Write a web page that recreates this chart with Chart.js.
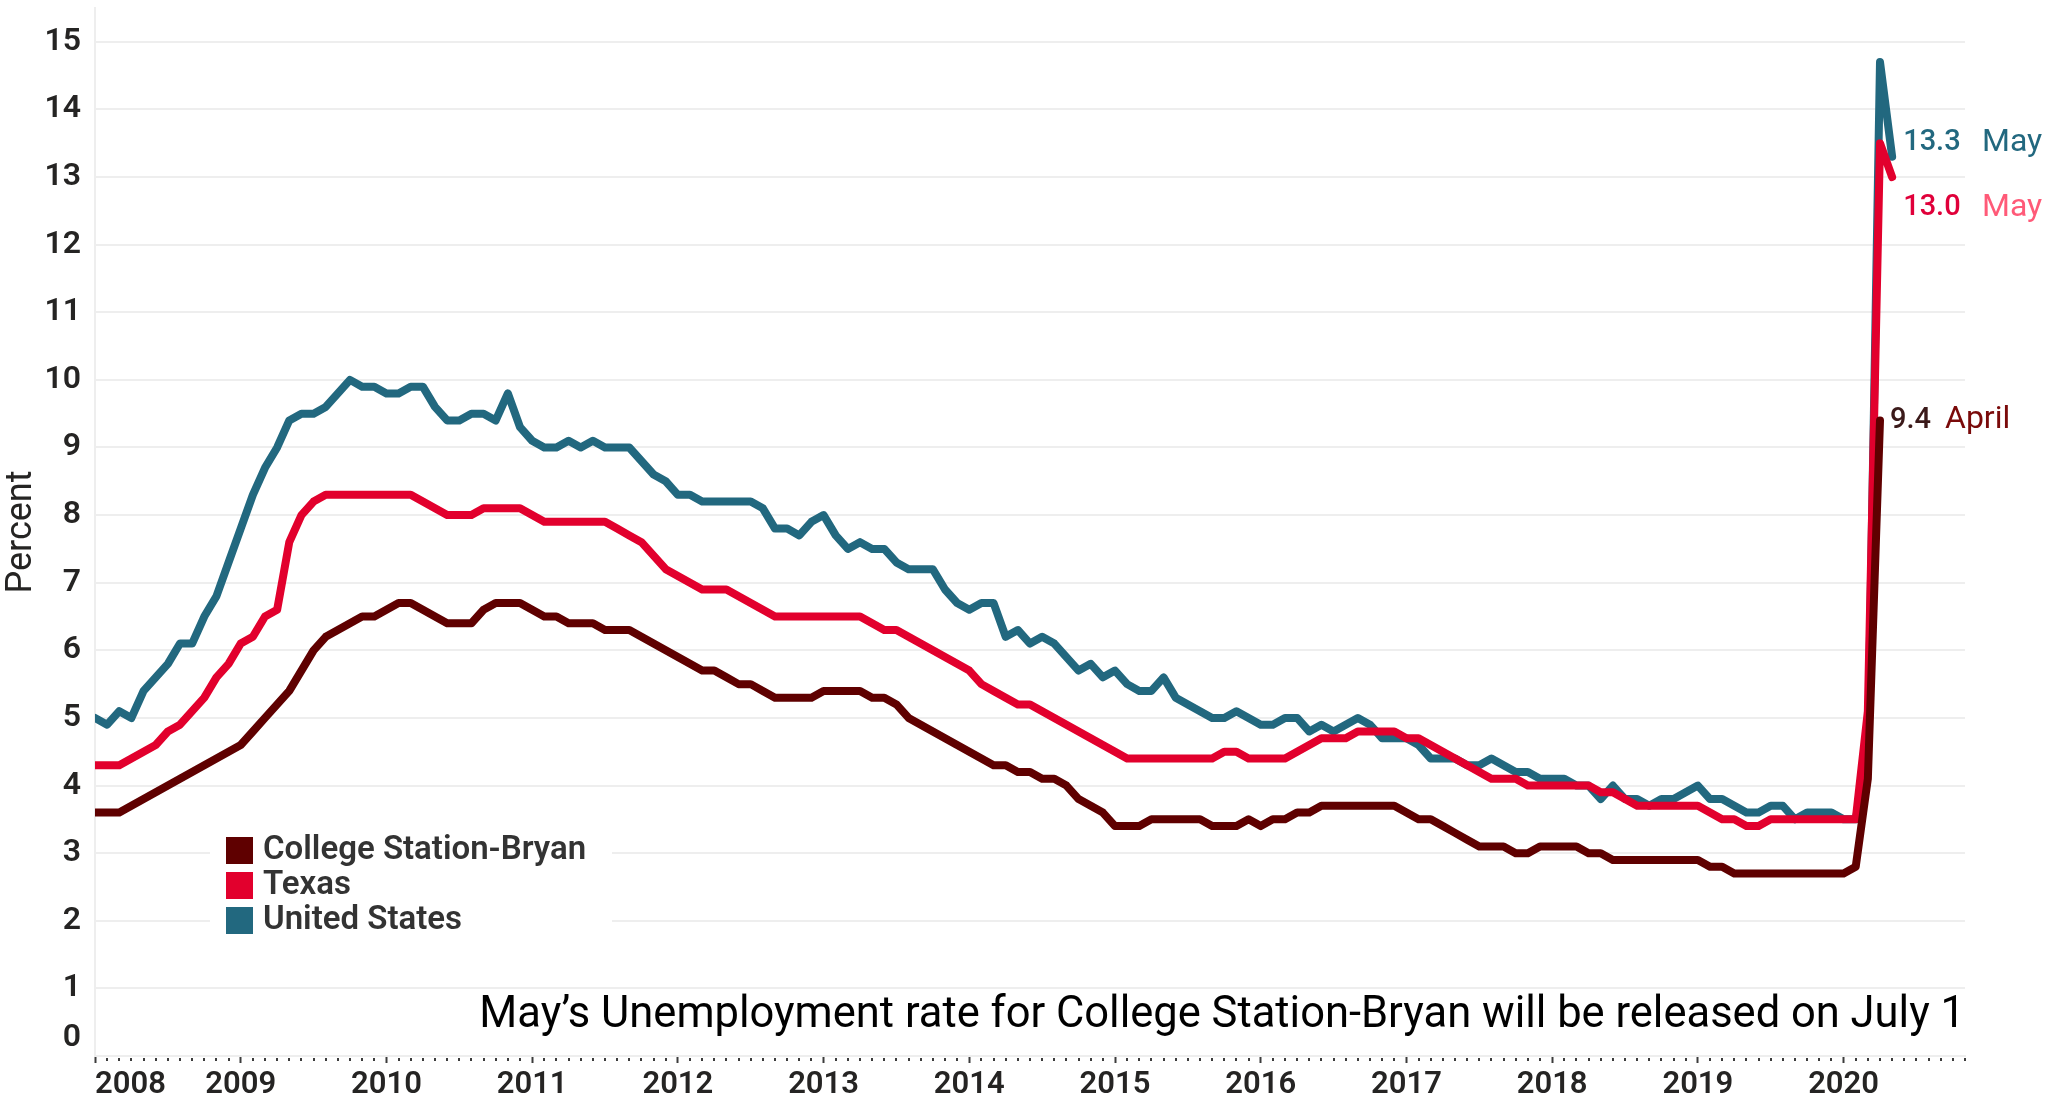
<!DOCTYPE html>
<html>
<head>
<meta charset="utf-8">
<title>Unemployment rate</title>
<script src="https://cdn.jsdelivr.net/npm/chart.js@4.4.0/dist/chart.umd.min.js"></script>
<style>
  html, body { margin: 0; padding: 0; background: #fff; }
  #wrap { width: 2050px; height: 1109px; }
</style>
</head>
<body>
<div id="wrap"><canvas id="chart" width="2050" height="1109"></canvas></div>
<script>
// Monthly unemployment rate, Jan 2008 onwards (percent)

const yearLabels = ['2008', '2009', '2010', '2011', '2012', '2013', '2014',
  '2015', '2016', '2017', '2018', '2019', '2020'];

const monthNames = ['January', 'February', 'March', 'April', 'May', 'June',
  'July', 'August', 'September', 'October', 'November', 'December'];

const yTickValues = [0, 1, 2, 3, 4, 5, 6, 7, 8, 9, 10, 11, 12, 13, 14, 15];

const seriesNames = ['College Station-Bryan', 'Texas', 'United States'];
const seriesColors = ['#5f0000', '#e2002d', '#22687f'];

// College Station-Bryan (ends April 2020)
const csbRate = [
  3.6, 3.6, 3.6, 3.7, 3.8, 3.9, 4.0, 4.1, 4.2, 4.3, 4.4, 4.5,
  4.6, 4.8, 5.0, 5.2, 5.4, 5.7, 6.0, 6.2, 6.3, 6.4, 6.5, 6.5,
  6.6, 6.7, 6.7, 6.6, 6.5, 6.4, 6.4, 6.4, 6.6, 6.7, 6.7, 6.7,
  6.6, 6.5, 6.5, 6.4, 6.4, 6.4, 6.3, 6.3, 6.3, 6.2, 6.1, 6.0,
  5.9, 5.8, 5.7, 5.7, 5.6, 5.5, 5.5, 5.4, 5.3, 5.3, 5.3, 5.3,
  5.4, 5.4, 5.4, 5.4, 5.3, 5.3, 5.2, 5.0, 4.9, 4.8, 4.7, 4.6,
  4.5, 4.4, 4.3, 4.3, 4.2, 4.2, 4.1, 4.1, 4.0, 3.8, 3.7, 3.6,
  3.4, 3.4, 3.4, 3.5, 3.5, 3.5, 3.5, 3.5, 3.4, 3.4, 3.4, 3.5,
  3.4, 3.5, 3.5, 3.6, 3.6, 3.7, 3.7, 3.7, 3.7, 3.7, 3.7, 3.7,
  3.6, 3.5, 3.5, 3.4, 3.3, 3.2, 3.1, 3.1, 3.1, 3.0, 3.0, 3.1,
  3.1, 3.1, 3.1, 3.0, 3.0, 2.9, 2.9, 2.9, 2.9, 2.9, 2.9, 2.9,
  2.9, 2.8, 2.8, 2.7, 2.7, 2.7, 2.7, 2.7, 2.7, 2.7, 2.7, 2.7,
  2.7, 2.8, 4.1, 9.4
];

// Texas (ends May 2020)
const texasRate = [
  4.3, 4.3, 4.3, 4.4, 4.5, 4.6, 4.8, 4.9, 5.1, 5.3, 5.6, 5.8,
  6.1, 6.2, 6.5, 6.6, 7.6, 8.0, 8.2, 8.3, 8.3, 8.3, 8.3, 8.3,
  8.3, 8.3, 8.3, 8.2, 8.1, 8.0, 8.0, 8.0, 8.1, 8.1, 8.1, 8.1,
  8.0, 7.9, 7.9, 7.9, 7.9, 7.9, 7.9, 7.8, 7.7, 7.6, 7.4, 7.2,
  7.1, 7.0, 6.9, 6.9, 6.9, 6.8, 6.7, 6.6, 6.5, 6.5, 6.5, 6.5,
  6.5, 6.5, 6.5, 6.5, 6.4, 6.3, 6.3, 6.2, 6.1, 6.0, 5.9, 5.8,
  5.7, 5.5, 5.4, 5.3, 5.2, 5.2, 5.1, 5.0, 4.9, 4.8, 4.7, 4.6,
  4.5, 4.4, 4.4, 4.4, 4.4, 4.4, 4.4, 4.4, 4.4, 4.5, 4.5, 4.4,
  4.4, 4.4, 4.4, 4.5, 4.6, 4.7, 4.7, 4.7, 4.8, 4.8, 4.8, 4.8,
  4.7, 4.7, 4.6, 4.5, 4.4, 4.3, 4.2, 4.1, 4.1, 4.1, 4.0, 4.0,
  4.0, 4.0, 4.0, 4.0, 3.9, 3.9, 3.8, 3.7, 3.7, 3.7, 3.7, 3.7,
  3.7, 3.6, 3.5, 3.5, 3.4, 3.4, 3.5, 3.5, 3.5, 3.5, 3.5, 3.5,
  3.5, 3.5, 5.1, 13.5, 13.0
];

// United States (ends May 2020)
const usRate = [
  5.0, 4.9, 5.1, 5.0, 5.4, 5.6, 5.8, 6.1, 6.1, 6.5, 6.8, 7.3,
  7.8, 8.3, 8.7, 9.0, 9.4, 9.5, 9.5, 9.6, 9.8, 10.0, 9.9, 9.9,
  9.8, 9.8, 9.9, 9.9, 9.6, 9.4, 9.4, 9.5, 9.5, 9.4, 9.8, 9.3,
  9.1, 9.0, 9.0, 9.1, 9.0, 9.1, 9.0, 9.0, 9.0, 8.8, 8.6, 8.5,
  8.3, 8.3, 8.2, 8.2, 8.2, 8.2, 8.2, 8.1, 7.8, 7.8, 7.7, 7.9,
  8.0, 7.7, 7.5, 7.6, 7.5, 7.5, 7.3, 7.2, 7.2, 7.2, 6.9, 6.7,
  6.6, 6.7, 6.7, 6.2, 6.3, 6.1, 6.2, 6.1, 5.9, 5.7, 5.8, 5.6,
  5.7, 5.5, 5.4, 5.4, 5.6, 5.3, 5.2, 5.1, 5.0, 5.0, 5.1, 5.0,
  4.9, 4.9, 5.0, 5.0, 4.8, 4.9, 4.8, 4.9, 5.0, 4.9, 4.7, 4.7,
  4.7, 4.6, 4.4, 4.4, 4.4, 4.3, 4.3, 4.4, 4.3, 4.2, 4.2, 4.1,
  4.1, 4.1, 4.0, 4.0, 3.8, 4.0, 3.8, 3.8, 3.7, 3.8, 3.8, 3.9,
  4.0, 3.8, 3.8, 3.7, 3.6, 3.6, 3.7, 3.7, 3.5, 3.6, 3.6, 3.6,
  3.5, 3.5, 4.4, 14.7, 13.3
];

const seriesValues = [csbRate, texasRate, usRate];

const noteText = 'May\u2019s Unemployment rate for College Station-Bryan will be released on July 1';

// --- Layout / style ---
const FONT = 'Roboto, "Noto Sans", sans-serif';
const TEXT_COLOR = '#252423';
const GRID_COLOR = '#eeeeee';
const X_MAX = 154;   // axis runs on past the data, to late 2020
const Y_MAX = 15.5;

// end-of-line labels: offsets from the last point of each series
const endLabelStyle = [
  { dx: 10, dy: 0, valueColor: '#3b1a1a', periodColor: '#7a0a0a', periodX: 1945 },
  { dx: 11, dy: 31, valueColor: '#e0003a', periodColor: '#ff5a78', periodX: 1982 },
  { dx: 11, dy: -14, valueColor: '#22687f', periodColor: '#22687f', periodX: 1982 },
];

function toPoints(values) {
  return values.map((v, i) => ({ x: i, y: v }));
}

function fitFont(ctx, text, width, weight, family) {
  let size = 40;
  ctx.font = weight + ' ' + size + 'px ' + family;
  size = size * width / ctx.measureText(text).width;
  return weight + ' ' + size.toFixed(1) + 'px ' + family;
}

const overlayPlugin = {
  id: 'overlay',
  afterDraw(chart) {
    const ctx = chart.ctx;
    const xs = chart.scales.x;
    const ys = chart.scales.y;
    const area = chart.chartArea;
    ctx.save();

    // minor (monthly) tick marks
    ctx.strokeStyle = '#3c3c3c';
    ctx.lineWidth = 2;
    for (let m = 0; m <= X_MAX; m++) {
      if (m % 12 === 0) continue;
      const px = Math.round(xs.getPixelForValue(m));
      ctx.beginPath();
      ctx.moveTo(px, area.bottom + 2);
      ctx.lineTo(px, area.bottom + 5);
      ctx.stroke();
    }

    // "0" label sits above the axis line, as in the original
    ctx.fillStyle = TEXT_COLOR;
    ctx.font = '600 32px ' + FONT;
    ctx.textAlign = 'right';
    ctx.textBaseline = 'middle';
    ctx.fillText('0', ys.right - 14, ys.getPixelForValue(0) - 18);

    // legend box inside the plot
    ctx.fillStyle = '#ffffff';
    ctx.fillRect(210, 826, 402, 120);
    ctx.font = '600 33px ' + FONT;
    ctx.textAlign = 'left';
    chart.data.datasets.forEach((ds, i) => {
      const top = 837 + i * 35;
      ctx.fillStyle = ds.borderColor;
      ctx.fillRect(226, top, 27, 27);
      ctx.fillStyle = '#333333';
      ctx.fillText(ds.label, 263, top + 14);
    });

    // value + month labels at the end of each line
    chart.data.datasets.forEach((ds, i) => {
      const pts = ds.data;
      const last = pts[pts.length - 1];
      const st = endLabelStyle[i];
      const px = xs.getPixelForValue(last.x) + st.dx;
      const py = ys.getPixelForValue(last.y) + st.dy;
      ctx.textAlign = 'left';
      ctx.font = '500 29px ' + FONT;
      ctx.fillStyle = st.valueColor;
      ctx.fillText(last.y.toFixed(1), px, py);
      ctx.font = '32px ' + FONT;
      ctx.fillStyle = st.periodColor;
      ctx.fillText(monthNames[last.x % 12], st.periodX, py);
    });

    // note under the lines
    ctx.font = fitFont(ctx, noteText, 1484, '400', FONT);
    ctx.fillStyle = '#000000';
    ctx.textAlign = 'right';
    ctx.textBaseline = 'alphabetic';
    ctx.fillText(noteText, area.right, 1027);

    ctx.restore();
  }
};

new Chart(document.getElementById('chart'), {
  type: 'line',
  data: {
    datasets: seriesNames.map((name, i) => ({
      label: name,
      data: toPoints(seriesValues[i]),
      borderColor: seriesColors[i],
      backgroundColor: seriesColors[i],
      borderWidth: 8,
      pointRadius: 0,
      tension: 0,
      fill: false,
      borderJoinStyle: 'round',
      borderCapStyle: 'round',
    })),
  },
  options: {
    responsive: false,
    animation: false,
    devicePixelRatio: 1,
    layout: { padding: { left: 0, right: 85, top: 8, bottom: 0 } },
    plugins: {
      legend: { display: false },
      tooltip: { enabled: false },
    },
    scales: {
      x: {
        type: 'linear',
        min: 0,
        max: X_MAX,
        afterBuildTicks(scale) {
          scale.ticks = yearLabels.map((_, i) => ({ value: i * 12 }))
            .concat([{ value: X_MAX }]);
        },
        afterFit(scale) {
          scale.height = 53;
          scale.paddingLeft = 0;
          scale.paddingRight = 0;
        },
        ticks: {
          autoSkip: false,
          maxRotation: 0,
          align: 'inner',
          padding: 4,
          color: TEXT_COLOR,
          font: { family: FONT, size: 31, weight: '600' },
          callback: (v) => (v % 12 === 0 ? yearLabels[v / 12] : ''),
        },
        grid: {
          drawOnChartArea: false,
          drawTicks: true,
          tickLength: 7,
          tickWidth: 2,
          tickColor: (c) => (c.tick && c.tick.value % 12 === 0 ? '#3c3c3c' : 'rgba(0,0,0,0)'),
        },
        border: { display: true, color: GRID_COLOR, width: 2 },
      },
      y: {
        min: 0,
        max: Y_MAX,
        afterBuildTicks(scale) {
          scale.ticks = yTickValues.map((v) => ({ value: v }));
        },
        afterFit(scale) {
          scale.width = 95;
          scale.paddingTop = 0;
          scale.paddingBottom = 0;
        },
        ticks: {
          padding: 14,
          color: TEXT_COLOR,
          font: { family: FONT, size: 32, weight: '600' },
          callback: (v) => (v === 0 ? '' : String(v)),
        },
        grid: { color: GRID_COLOR, lineWidth: 2, drawTicks: false },
        border: { display: true, color: GRID_COLOR, width: 2 },
        title: {
          display: true,
          text: 'Percent',
          color: TEXT_COLOR,
          font: { family: FONT, size: 36 },
          padding: 0,
        },
      },
    },
  },
  plugins: [overlayPlugin],
});
</script>
</body>
</html>
